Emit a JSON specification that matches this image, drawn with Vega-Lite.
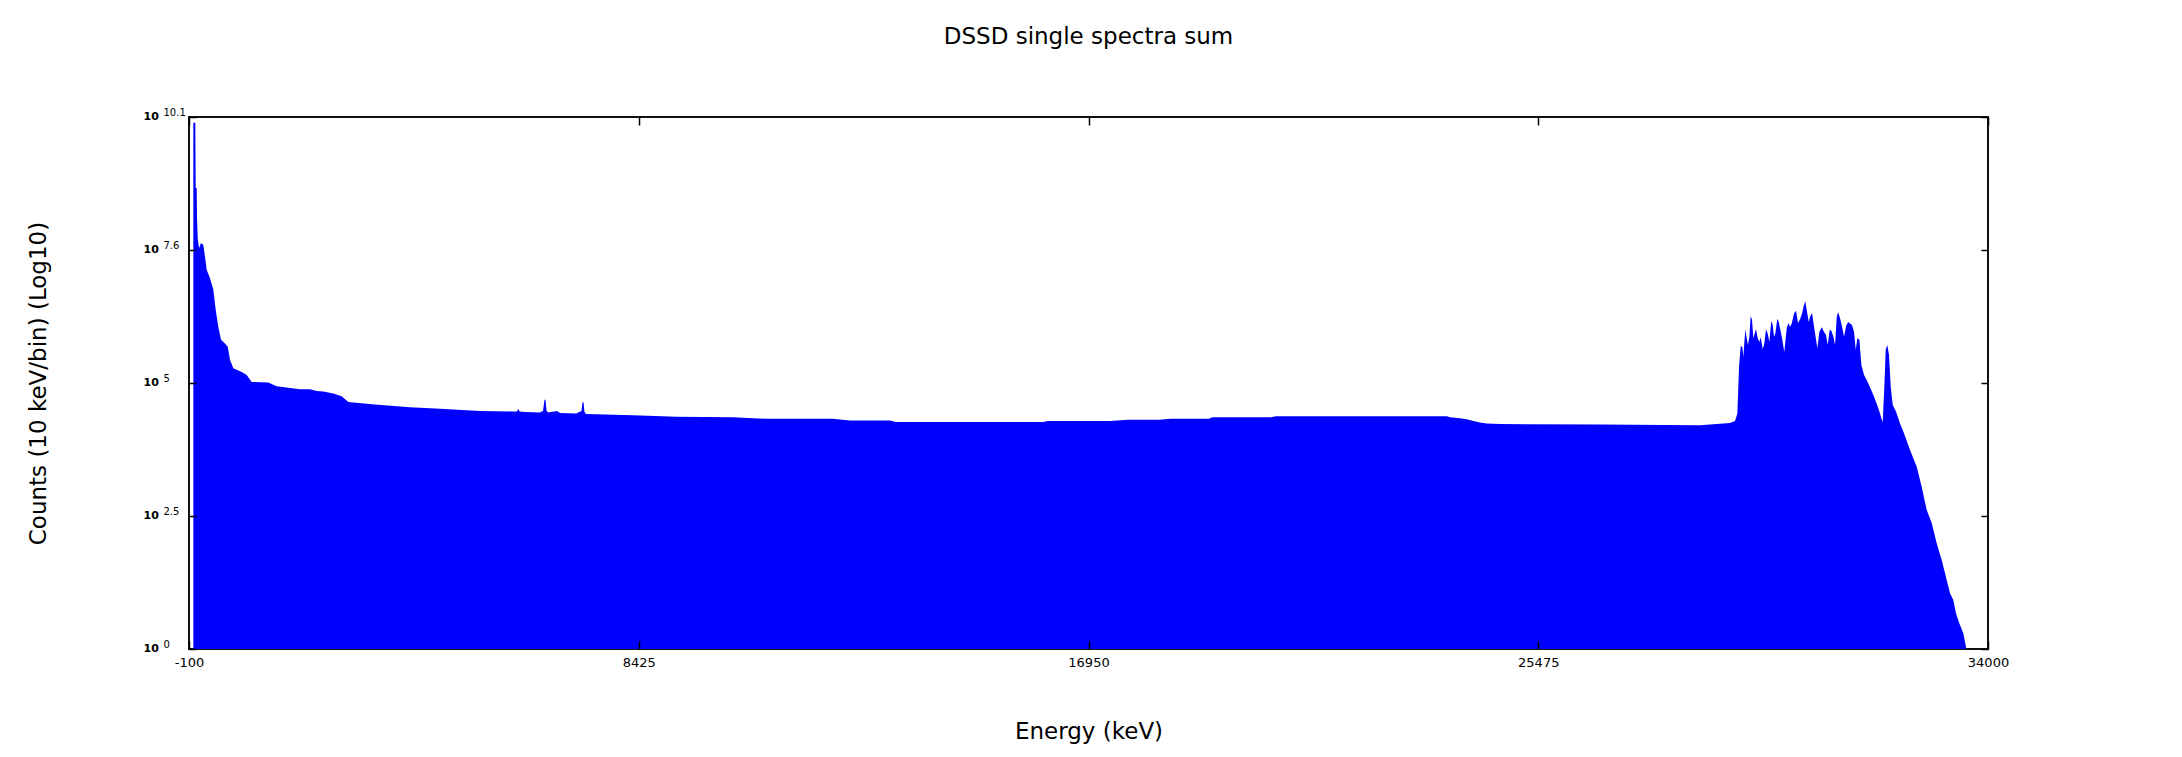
{
  "$schema": "https://vega.github.io/schema/vega-lite/v6.json",
  "autosize": "none",
  "width": 1799,
  "height": 532,
  "padding": {"left": 189, "top": 117, "right": 194, "bottom": 108},
  "background": "#ffffff",
  "config": {
    "font": "DejaVu Sans",
    "view": {"stroke": "#111111", "strokeWidth": 2}
  },
  "title": {
    "text": "DSSD single spectra sum",
    "fontSize": 23,
    "fontWeight": "normal",
    "color": "#000000",
    "anchor": "middle",
    "frame": "group",
    "baseline": "middle",
    "offset": 47
  },
  "data": {
    "values": [
      {"energy_keV": -18, "log10_counts": 9.99},
      {"energy_keV": 19, "log10_counts": 9.99},
      {"energy_keV": 27, "log10_counts": 8.75},
      {"energy_keV": 46, "log10_counts": 8.75},
      {"energy_keV": 52, "log10_counts": 8.21},
      {"energy_keV": 65, "log10_counts": 7.8},
      {"energy_keV": 90, "log10_counts": 7.61},
      {"energy_keV": 127, "log10_counts": 7.71},
      {"energy_keV": 171, "log10_counts": 7.67},
      {"energy_keV": 203, "log10_counts": 7.45},
      {"energy_keV": 235, "log10_counts": 7.2},
      {"energy_keV": 298, "log10_counts": 7.04},
      {"energy_keV": 361, "log10_counts": 6.82},
      {"energy_keV": 406, "log10_counts": 6.44},
      {"energy_keV": 455, "log10_counts": 6.12},
      {"energy_keV": 507, "log10_counts": 5.87},
      {"energy_keV": 582, "log10_counts": 5.8},
      {"energy_keV": 634, "log10_counts": 5.74},
      {"energy_keV": 677, "log10_counts": 5.49},
      {"energy_keV": 740, "log10_counts": 5.33},
      {"energy_keV": 899, "log10_counts": 5.26},
      {"energy_keV": 994, "log10_counts": 5.2},
      {"energy_keV": 1088, "log10_counts": 5.07},
      {"energy_keV": 1403, "log10_counts": 5.06},
      {"energy_keV": 1562, "log10_counts": 4.99},
      {"energy_keV": 1782, "log10_counts": 4.96},
      {"energy_keV": 2004, "log10_counts": 4.93},
      {"energy_keV": 2193, "log10_counts": 4.93},
      {"energy_keV": 2320, "log10_counts": 4.9},
      {"energy_keV": 2446, "log10_counts": 4.89},
      {"energy_keV": 2635, "log10_counts": 4.85},
      {"energy_keV": 2794, "log10_counts": 4.8},
      {"energy_keV": 2920, "log10_counts": 4.69},
      {"energy_keV": 3014, "log10_counts": 4.68},
      {"energy_keV": 3426, "log10_counts": 4.64},
      {"energy_keV": 4089, "log10_counts": 4.59},
      {"energy_keV": 4658, "log10_counts": 4.56},
      {"energy_keV": 5416, "log10_counts": 4.52},
      {"energy_keV": 6047, "log10_counts": 4.51},
      {"energy_keV": 6117, "log10_counts": 4.51},
      {"energy_keV": 6142, "log10_counts": 4.56},
      {"energy_keV": 6165, "log10_counts": 4.51},
      {"energy_keV": 6269, "log10_counts": 4.5},
      {"energy_keV": 6553, "log10_counts": 4.49},
      {"energy_keV": 6610, "log10_counts": 4.52},
      {"energy_keV": 6638, "log10_counts": 4.73},
      {"energy_keV": 6657, "log10_counts": 4.73},
      {"energy_keV": 6676, "log10_counts": 4.53},
      {"energy_keV": 6705, "log10_counts": 4.49},
      {"energy_keV": 6876, "log10_counts": 4.52},
      {"energy_keV": 6932, "log10_counts": 4.48},
      {"energy_keV": 7236, "log10_counts": 4.47},
      {"energy_keV": 7340, "log10_counts": 4.52},
      {"energy_keV": 7359, "log10_counts": 4.69},
      {"energy_keV": 7378, "log10_counts": 4.68},
      {"energy_keV": 7397, "log10_counts": 4.5},
      {"energy_keV": 7425, "log10_counts": 4.46},
      {"energy_keV": 8316, "log10_counts": 4.44},
      {"energy_keV": 9144, "log10_counts": 4.41},
      {"energy_keV": 10212, "log10_counts": 4.4},
      {"energy_keV": 10850, "log10_counts": 4.37},
      {"energy_keV": 11500, "log10_counts": 4.37},
      {"energy_keV": 12100, "log10_counts": 4.37},
      {"energy_keV": 12430, "log10_counts": 4.34},
      {"energy_keV": 13190, "log10_counts": 4.34},
      {"energy_keV": 13300, "log10_counts": 4.31},
      {"energy_keV": 14500, "log10_counts": 4.31},
      {"energy_keV": 16090, "log10_counts": 4.31},
      {"energy_keV": 16180, "log10_counts": 4.33},
      {"energy_keV": 17360, "log10_counts": 4.33},
      {"energy_keV": 17700, "log10_counts": 4.35},
      {"energy_keV": 18290, "log10_counts": 4.35},
      {"energy_keV": 18510, "log10_counts": 4.37},
      {"energy_keV": 19230, "log10_counts": 4.37},
      {"energy_keV": 19300, "log10_counts": 4.4},
      {"energy_keV": 20410, "log10_counts": 4.4},
      {"energy_keV": 20500, "log10_counts": 4.42},
      {"energy_keV": 22000, "log10_counts": 4.42},
      {"energy_keV": 23745, "log10_counts": 4.42},
      {"energy_keV": 23802, "log10_counts": 4.4},
      {"energy_keV": 23992, "log10_counts": 4.38},
      {"energy_keV": 24119, "log10_counts": 4.36},
      {"energy_keV": 24245, "log10_counts": 4.33},
      {"energy_keV": 24371, "log10_counts": 4.3},
      {"energy_keV": 24498, "log10_counts": 4.28},
      {"energy_keV": 24750, "log10_counts": 4.27},
      {"energy_keV": 26646, "log10_counts": 4.26},
      {"energy_keV": 28541, "log10_counts": 4.25},
      {"energy_keV": 28857, "log10_counts": 4.27},
      {"energy_keV": 29110, "log10_counts": 4.29},
      {"energy_keV": 29205, "log10_counts": 4.33},
      {"energy_keV": 29249, "log10_counts": 4.47},
      {"energy_keV": 29281, "log10_counts": 5.36},
      {"energy_keV": 29312, "log10_counts": 5.75},
      {"energy_keV": 29343, "log10_counts": 5.74},
      {"energy_keV": 29362, "log10_counts": 5.55},
      {"energy_keV": 29400, "log10_counts": 6.07},
      {"energy_keV": 29427, "log10_counts": 5.9},
      {"energy_keV": 29451, "log10_counts": 5.77},
      {"energy_keV": 29476, "log10_counts": 5.93},
      {"energy_keV": 29502, "log10_counts": 6.32},
      {"energy_keV": 29527, "log10_counts": 6.25},
      {"energy_keV": 29552, "log10_counts": 5.9},
      {"energy_keV": 29578, "log10_counts": 5.99},
      {"energy_keV": 29603, "log10_counts": 6.07},
      {"energy_keV": 29635, "log10_counts": 5.9},
      {"energy_keV": 29665, "log10_counts": 5.83},
      {"energy_keV": 29692, "log10_counts": 5.92},
      {"energy_keV": 29730, "log10_counts": 5.69},
      {"energy_keV": 29760, "log10_counts": 5.8},
      {"energy_keV": 29792, "log10_counts": 6.07},
      {"energy_keV": 29824, "log10_counts": 5.99},
      {"energy_keV": 29855, "log10_counts": 5.83},
      {"energy_keV": 29893, "log10_counts": 6.23},
      {"energy_keV": 29919, "log10_counts": 6.15},
      {"energy_keV": 29944, "log10_counts": 5.93},
      {"energy_keV": 29969, "log10_counts": 5.99},
      {"energy_keV": 30007, "log10_counts": 6.27},
      {"energy_keV": 30033, "log10_counts": 6.21},
      {"energy_keV": 30064, "log10_counts": 6.06},
      {"energy_keV": 30096, "log10_counts": 5.9},
      {"energy_keV": 30139, "log10_counts": 5.64},
      {"energy_keV": 30185, "log10_counts": 6.09},
      {"energy_keV": 30215, "log10_counts": 6.19},
      {"energy_keV": 30247, "log10_counts": 6.12},
      {"energy_keV": 30280, "log10_counts": 6.18},
      {"energy_keV": 30323, "log10_counts": 6.37},
      {"energy_keV": 30361, "log10_counts": 6.42},
      {"energy_keV": 30399, "log10_counts": 6.19},
      {"energy_keV": 30437, "log10_counts": 6.26},
      {"energy_keV": 30475, "log10_counts": 6.37},
      {"energy_keV": 30507, "log10_counts": 6.51},
      {"energy_keV": 30537, "log10_counts": 6.6},
      {"energy_keV": 30575, "log10_counts": 6.37},
      {"energy_keV": 30602, "log10_counts": 6.21},
      {"energy_keV": 30627, "log10_counts": 6.31},
      {"energy_keV": 30665, "log10_counts": 6.38},
      {"energy_keV": 30703, "log10_counts": 6.12},
      {"energy_keV": 30741, "log10_counts": 5.87},
      {"energy_keV": 30765, "log10_counts": 5.71},
      {"energy_keV": 30803, "log10_counts": 6.02},
      {"energy_keV": 30849, "log10_counts": 6.11},
      {"energy_keV": 30892, "log10_counts": 6.02},
      {"energy_keV": 30930, "log10_counts": 5.96},
      {"energy_keV": 30962, "log10_counts": 5.77},
      {"energy_keV": 31000, "log10_counts": 6.06},
      {"energy_keV": 31031, "log10_counts": 6.04},
      {"energy_keV": 31069, "log10_counts": 5.93},
      {"energy_keV": 31101, "log10_counts": 5.77},
      {"energy_keV": 31133, "log10_counts": 6.31},
      {"energy_keV": 31158, "log10_counts": 6.4},
      {"energy_keV": 31196, "log10_counts": 6.28},
      {"energy_keV": 31234, "log10_counts": 6.12},
      {"energy_keV": 31272, "log10_counts": 5.93},
      {"energy_keV": 31310, "log10_counts": 6.13},
      {"energy_keV": 31348, "log10_counts": 6.21},
      {"energy_keV": 31385, "log10_counts": 6.18},
      {"energy_keV": 31423, "log10_counts": 6.15},
      {"energy_keV": 31461, "log10_counts": 6.02},
      {"energy_keV": 31493, "log10_counts": 5.68},
      {"energy_keV": 31524, "log10_counts": 5.9},
      {"energy_keV": 31562, "log10_counts": 5.87},
      {"energy_keV": 31600, "log10_counts": 5.39},
      {"energy_keV": 31651, "log10_counts": 5.2},
      {"energy_keV": 31732, "log10_counts": 5.04},
      {"energy_keV": 31827, "log10_counts": 4.82},
      {"energy_keV": 31922, "log10_counts": 4.57},
      {"energy_keV": 32004, "log10_counts": 4.3},
      {"energy_keV": 32035, "log10_counts": 4.98},
      {"energy_keV": 32061, "log10_counts": 5.68},
      {"energy_keV": 32091, "log10_counts": 5.77},
      {"energy_keV": 32124, "log10_counts": 5.58},
      {"energy_keV": 32156, "log10_counts": 4.98},
      {"energy_keV": 32194, "log10_counts": 4.63},
      {"energy_keV": 32256, "log10_counts": 4.51},
      {"energy_keV": 32332, "log10_counts": 4.28},
      {"energy_keV": 32395, "log10_counts": 4.13},
      {"energy_keV": 32522, "log10_counts": 3.78},
      {"energy_keV": 32649, "log10_counts": 3.46},
      {"energy_keV": 32743, "log10_counts": 3.08},
      {"energy_keV": 32838, "log10_counts": 2.64},
      {"energy_keV": 32933, "log10_counts": 2.39},
      {"energy_keV": 33027, "log10_counts": 2.01},
      {"energy_keV": 33122, "log10_counts": 1.69},
      {"energy_keV": 33217, "log10_counts": 1.31},
      {"energy_keV": 33280, "log10_counts": 1.06},
      {"energy_keV": 33342, "log10_counts": 0.93},
      {"energy_keV": 33393, "log10_counts": 0.68},
      {"energy_keV": 33456, "log10_counts": 0.49},
      {"energy_keV": 33532, "log10_counts": 0.3},
      {"energy_keV": 33583, "log10_counts": 0.04},
      {"energy_keV": 33590, "log10_counts": 0}
    ]
  },
  "layer": [
    {
      "mark": {"type": "area", "color": "#0000ff", "interpolate": "linear"},
      "encoding": {
        "x": {
          "field": "energy_keV", "type": "quantitative",
          "scale": {"domain": [-100, 34000], "nice": false, "zero": false},
          "axis": {
            "orient": "bottom",
            "values": [-100, 8425, 16950, 25475, 34000],
            "labelExpr": "'' + datum.value",
            "labelFlush": false, "labelOverlap": false, "labelBound": false,
            "ticks": false, "domain": false, "grid": false,
            "labelFontSize": 13, "labelColor": "#000000", "labelPadding": 7,
            "title": "Energy (keV)", "titleFontSize": 23, "titleFontWeight": "normal",
            "titleColor": "#000000", "titleY": 82, "titleBaseline": "middle"
          }
        },
        "y": {
          "field": "log10_counts", "type": "quantitative",
          "scale": {"domain": [0, 10.1], "nice": false},
          "axis": {
            "orient": "left",
            "values": [0, 2.525, 5.05, 7.575, 10.1],
            "labelExpr": "'10'",
            "labelFontWeight": "bold", "labelFontSize": 11, "labelColor": "#000000",
            "labelAlign": "left", "labelBaseline": "middle",
            "labelPadding": 46, "labelOffset": -1,
            "labelOverlap": false, "labelFlush": false, "labelBound": false,
            "ticks": false, "domain": false, "grid": false,
            "title": "Counts (10 keV/bin) (Log10)", "titleFontSize": 23,
            "titleFontWeight": "normal", "titleColor": "#000000",
            "titleX": -151, "titleY": 266, "titleBaseline": "middle", "titleAngle": -90
          }
        }
      }
    },
    {
      "mark": {"type": "area", "opacity": 0},
      "encoding": {
        "x": {
          "field": "energy_keV", "type": "quantitative",
          "axis": {
            "orient": "top", "values": [-100, 8425, 16950, 25475, 34000],
            "labels": false, "domain": false, "grid": false, "title": null,
            "ticks": true, "tickSize": -8, "tickColor": "#000000", "tickWidth": 1.5, "zindex": 2
          }
        },
        "y": {
          "field": "log10_counts", "type": "quantitative",
          "axis": {
            "orient": "right", "values": [0, 2.525, 5.05, 7.575, 10.1],
            "labels": false, "domain": false, "grid": false, "title": null,
            "ticks": true, "tickSize": -7, "tickColor": "#000000", "tickWidth": 1.5, "zindex": 2
          }
        }
      }
    },
    {
      "mark": {"type": "area", "opacity": 0},
      "encoding": {
        "x": {
          "field": "energy_keV", "type": "quantitative",
          "axis": {
            "orient": "bottom", "values": [-100, 8425, 16950, 25475, 34000],
            "labels": false, "domain": false, "grid": false, "title": null,
            "ticks": true, "tickSize": -8, "tickColor": "#000000", "tickWidth": 1.5, "zindex": 2
          }
        },
        "y": {
          "field": "log10_counts", "type": "quantitative",
          "axis": {
            "orient": "left", "values": [0, 2.525, 5.05, 7.575, 10.1],
            "labels": false, "domain": false, "grid": false, "title": null,
            "ticks": true, "tickSize": -7, "tickColor": "#000000", "tickWidth": 1.5, "zindex": 2
          }
        }
      }
    },
    {
      "mark": {"type": "area", "opacity": 0},
      "encoding": {
        "x": {"field": "energy_keV", "type": "quantitative", "axis": null},
        "y": {
          "field": "log10_counts", "type": "quantitative",
          "axis": {
            "orient": "left", "values": [0, 2.525, 5.05, 7.575, 10.1],
            "labelExpr": "datum.value < 1 ? '0' : datum.value < 3 ? '2.5' : datum.value < 6 ? '5' : datum.value < 8 ? '7.6' : '10.1'",
            "labelFontSize": 10, "labelColor": "#000000",
            "labelAlign": "left", "labelBaseline": "middle",
            "labelPadding": 26, "labelOffset": -5,
            "labelOverlap": false, "labelFlush": false, "labelBound": false,
            "ticks": false, "domain": false, "grid": false, "title": null
          }
        }
      }
    }
  ],
  "resolve": {"axis": {"x": "independent", "y": "independent"}}
}
